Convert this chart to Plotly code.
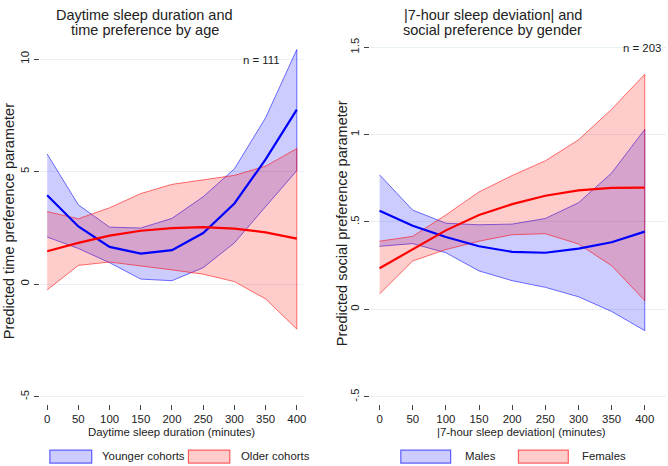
import plotly.graph_objects as go

# ---------------- data ----------------
minutes = [0, 50, 100, 150, 200, 250, 300, 350, 400]

# Left panel: daytime sleep duration vs time preference, by age
young_mean = [3.95, 2.56, 1.65, 1.35, 1.51, 2.27, 3.58, 5.54, 7.75]
young_upper = [5.78, 3.52, 2.53, 2.49, 2.92, 3.88, 5.12, 7.39, 10.42]
young_lower = [2.09, 1.58, 0.95, 0.22, 0.15, 0.73, 1.83, 3.44, 5.04]
old_mean = [1.46, 1.83, 2.15, 2.37, 2.49, 2.53, 2.46, 2.30, 2.02]
old_upper = [3.22, 2.90, 3.39, 4.02, 4.43, 4.64, 4.83, 5.24, 6.02]
old_lower = [-0.26, 0.83, 0.98, 0.80, 0.63, 0.44, 0.11, -0.66, -2.00]

# Right panel: |7-hour sleep deviation| vs social preference, by gender
male_mean = [0.565, 0.478, 0.414, 0.361, 0.329, 0.324, 0.348, 0.384, 0.445]
male_upper = [0.77, 0.568, 0.493, 0.484, 0.488, 0.52, 0.61, 0.78, 1.03]
male_lower = [0.361, 0.376, 0.324, 0.22, 0.164, 0.126, 0.072, -0.012, -0.122]
female_mean = [0.235, 0.342, 0.452, 0.54, 0.602, 0.65, 0.681, 0.695, 0.697]
female_upper = [0.39, 0.418, 0.54, 0.672, 0.766, 0.85, 0.97, 1.145, 1.345]
female_lower = [0.088, 0.277, 0.342, 0.39, 0.427, 0.433, 0.374, 0.25, 0.05]

x_ticks = [0, 50, 100, 150, 200, 250, 300, 350, 400]
left_yticks = [-5, 0, 5, 10]
left_yticktext = ["-5", "0", "5", "10"]
right_yticks = [-0.5, 0, 0.5, 1, 1.5]
right_yticktext = ["-.5", "0", ".5", "1", "1.5"]

left_title = ["Daytime sleep duration and", "time preference by age"]
right_title = ["|7-hour sleep deviation| and", "social preference by gender"]
left_ytitle = "Predicted time preference parameter"
right_ytitle = "Predicted social preference parameter"
left_xtitle = "Daytime sleep duration (minutes)"
right_xtitle = "|7-hour sleep deviation| (minutes)"
left_n = "n = 111"
right_n = "n = 203"
left_groups = ["Younger cohorts", "Older cohorts"]
right_groups = ["Males", "Females"]

# ---------------- style ----------------
W, H = 668, 466
FONT = "Liberation Sans, Arial, sans-serif"
TXT = "#222222"
BLUE_FILL = "rgba(0,0,255,0.2)"
BLUE_EDGE = "rgba(0,0,255,0.55)"
RED_FILL = "rgba(255,0,0,0.2)"
RED_EDGE = "rgba(255,0,0,0.55)"
GRID = "#E8F0F2"
BIG = 14.5
SMALL = 11.4


def fx(p):
    return p / W


def fy(p):
    return 1 - p / H


fig = go.Figure()


def band(xs, lo, hi, fill, edge, xa, ya):
    fig.add_trace(go.Scatter(
        x=list(xs) + list(xs)[::-1],
        y=list(hi) + list(lo)[::-1],
        fill="toself", fillcolor=fill, mode="lines",
        line=dict(color=edge, width=1), showlegend=False,
        hoverinfo="skip", xaxis=xa, yaxis=ya))


def mean_line(xs, ys, color, xa, ya):
    fig.add_trace(go.Scatter(
        x=xs, y=ys, mode="lines", line=dict(color=color, width=2.2),
        showlegend=False, xaxis=xa, yaxis=ya))


band(minutes, young_lower, young_upper, BLUE_FILL, BLUE_EDGE, "x", "y")
band(minutes, old_lower, old_upper, RED_FILL, RED_EDGE, "x", "y")
mean_line(minutes, young_mean, "#0000FF", "x", "y")
mean_line(minutes, old_mean, "#FF0000", "x", "y")

band(minutes, male_lower, male_upper, BLUE_FILL, BLUE_EDGE, "x2", "y2")
band(minutes, female_lower, female_upper, RED_FILL, RED_EDGE, "x2", "y2")
mean_line(minutes, male_mean, "#0000FF", "x2", "y2")
mean_line(minutes, female_mean, "#FF0000", "x2", "y2")

PLOT_TOP, PLOT_BOT = 38, 403
ydom = [fy(PLOT_BOT), fy(PLOT_TOP)]

common_x = dict(tickvals=x_ticks, ticks="outside", ticklen=5, tickcolor="#444",
                showgrid=False, zeroline=False, showline=False,
                tickfont=dict(size=SMALL, color=TXT, family=FONT))
common_y = dict(ticks="outside", ticklen=5, tickcolor="#444", tickangle=-90,
                showgrid=True, gridcolor=GRID, gridwidth=1, zeroline=False,
                showline=False, tickfont=dict(size=SMALL, color=TXT, family=FONT))

# left panel pixel mapping: x 0 -> 47.3px, 400 -> 297.7px ; y 0 -> 281.7px, 5 units = 114px
lx0, lsx = 47.3, 250.4 / 400
ly0, lsy = 281.7, 114 / 5
# right panel: x 0 -> 380.7px, 400 -> 646.7px ; y 0 -> 307.3px, 0.5 units = 88.5px
rx0, rsx = 380.7, 266 / 400
ry0, rsy = 307.3, 88.5 / 0.5

fig.update_layout(
    width=W, height=H, margin=dict(l=0, r=0, t=0, b=0),
    paper_bgcolor="white", plot_bgcolor="white",
    font=dict(family=FONT, color=TXT),
    xaxis=dict(domain=[fx(40), fx(305)], anchor="y",
               range=[(40 - lx0) / lsx, (305 - lx0) / lsx], **common_x),
    yaxis=dict(domain=ydom, anchor="x",
               range=[(ly0 - PLOT_BOT) / lsy, (ly0 - PLOT_TOP) / lsy],
               tickvals=left_yticks, ticktext=left_yticktext, **common_y),
    xaxis2=dict(domain=[fx(371), 1.0], anchor="y2",
                range=[(371 - rx0) / rsx, (668 - rx0) / rsx], **common_x),
    yaxis2=dict(domain=ydom, anchor="x2",
                range=[(ry0 - PLOT_BOT) / rsy, (ry0 - PLOT_TOP) / rsy],
                tickvals=right_yticks, ticktext=right_yticktext, **common_y),
)

ann = []


def text(t, x, y, size=SMALL, xanchor="center", yanchor="middle", angle=0):
    ann.append(dict(text=t, x=fx(x), y=fy(y), xref="paper", yref="paper",
                    showarrow=False, xanchor=xanchor, yanchor=yanchor,
                    textangle=angle, font=dict(size=size, color=TXT, family=FONT)))


text(left_title[0], 145, 9, size=BIG)
text(left_title[1], 145, 24, size=BIG)
text(right_title[0], 494, 9, size=BIG)
text(right_title[1], 494, 24, size=BIG)
text(left_ytitle, 9, 218, size=BIG, angle=-90)
text(right_ytitle, 343, 220, size=BIG, angle=-90)
text(left_xtitle, 172.5, 432)
text(right_xtitle, 523.5, 432)
text(left_n, 283, 55, xanchor="right")
text(right_n, 665, 43, xanchor="right")

text(left_groups[0], 100, 456, xanchor="left")
text(left_groups[1], 240, 456, xanchor="left")
text(right_groups[0], 464, 456, xanchor="left")
text(right_groups[1], 582, 456, xanchor="left")

shapes = []


def key(x0, x1, fill, edge):
    shapes.append(dict(type="rect", xref="paper", yref="paper",
                       x0=fx(x0), x1=fx(x1), y0=fy(463), y1=fy(450),
                       fillcolor=fill, line=dict(color=edge, width=1.2)))


key(50, 92, BLUE_FILL, "rgba(0,0,255,0.6)")
key(189, 230.5, RED_FILL, "rgba(255,0,0,0.6)")
key(402, 452, BLUE_FILL, "rgba(0,0,255,0.6)")
key(520, 570, RED_FILL, "rgba(255,0,0,0.6)")

fig.update_layout(annotations=ann, shapes=shapes)
fig.write_html("out.html")
